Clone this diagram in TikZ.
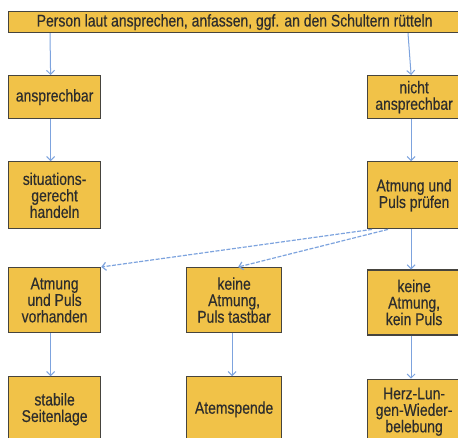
\documentclass[tikz,border=0pt]{standalone}
\usepackage{fontspec}
\setmainfont[FakeStretch=0.82,FakeBold=0.4]{Liberation Sans}
\usepackage{xcolor}
\usetikzlibrary{positioning}
\usetikzlibrary{arrows.meta}
\definecolor{boxgelb}{RGB}{241,194,72}
\definecolor{pfeilblau}{RGB}{125,163,222}
\definecolor{randgrau}{RGB}{70,68,62}
\definecolor{textgrau}{RGB}{45,45,45}

\begin{document}
\begin{tikzpicture}[->, >={Straight Barb[length=4pt,width=8pt]}, node distance=42pt, font=\fontsize{17}{16.5}\selectfont]
			\tikzstyle{block}=[draw=randgrau,rectangle,fill=boxgelb,line width=1.2pt,text=textgrau,align=center,inner sep=2pt,minimum width=92pt]
			\tikzstyle{pfeil}=[draw=pfeilblau,line width=1pt]
			\tikzstyle{schraeg}=[pfeil,line width=1.2pt,dash pattern=on 4pt off 1.5pt]

			\useasboundingbox (0,0) rectangle (458pt,-437pt);
			\clip (0,0) rectangle (458pt,-437pt);

			\node[block, anchor=north west, minimum width=452pt, minimum height=21pt, inner sep=0pt] (start) at (8pt,-11pt) {Person laut ansprechen, anfassen, ggf. an den Schultern rütteln};

			% linke Spalte
			\node[block, anchor=north west, minimum height=43pt] (ja) at (8pt,-75pt) {ansprechbar};
			\node[block, below=42pt of ja, minimum height=67pt] (handeln) {situations-\\gerecht\\handeln};

			% rechte Spalte
			\node[block, anchor=north west, minimum width=93pt, minimum height=43pt] (nein) at (367pt,-75pt) {nicht\\ansprechbar};
			\node[block, below=42pt of nein, minimum width=93pt, minimum height=67pt] (pruefen) {Atmung und\\Puls prüfen};

			% untere Reihen
			\node[block, anchor=north west, minimum height=65pt] (vorh) at (8pt,-267pt) {Atmung\\und Puls\\vorhanden};
			\node[block, anchor=north west, minimum width=95pt, minimum height=65pt] (tastbar) at (186pt,-267pt) {keine\\Atmung,\\Puls tastbar};
			\node[block, below=40pt of pruefen, minimum width=93pt, minimum height=65pt] (keinpuls) {keine\\Atmung,\\kein Puls};

			\node[block, below=43pt of vorh, minimum height=65pt] (seite) {stabile\\Seitenlage};
			\node[block, below=43pt of tastbar, minimum width=95pt, minimum height=65pt] (spende) {Atemspende};
			\node[block, below=43pt of keinpuls, minimum width=93pt, minimum height=65pt] (hlw) {Herz-Lun-\\gen-Wieder-\\belebung};

			\draw[pfeil] ([xshift=42pt]start.south west) -- ([xshift=-4pt]ja.north);
			\draw[pfeil] ([xshift=400pt]start.south west) -- ([xshift=-3pt]nein.north);
			\draw[pfeil] ([xshift=-4pt]ja.south) -- ([xshift=-4pt]handeln.north);
			\draw[pfeil] ([xshift=-3pt]nein.south) -- ([xshift=-3pt]pruefen.north);
			\draw[pfeil] ([xshift=-3pt]pruefen.south) -- ([xshift=-3pt]keinpuls.north);
			\draw[schraeg] ([xshift=5pt]pruefen.south west) -- (vorh.north east);
			\draw[schraeg] ([xshift=21pt]pruefen.south west) -- ([xshift=4pt]tastbar.north);
			\draw[pfeil] ([xshift=-4pt]vorh.south) -- ([xshift=-4pt]seite.north);
			\draw[pfeil] ([xshift=-2pt]tastbar.south) -- ([xshift=-2pt]spende.north);
			\draw[pfeil] ([xshift=-3pt]keinpuls.south) -- ([xshift=-3pt]hlw.north);
			\end{tikzpicture}
\end{document}
